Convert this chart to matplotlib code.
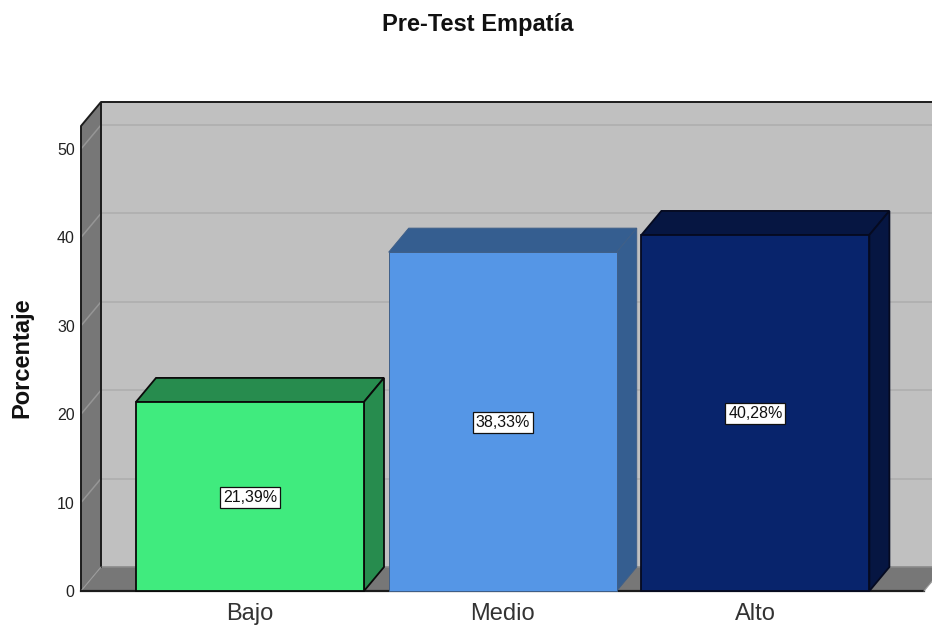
import matplotlib
matplotlib.use("Agg")
import matplotlib.pyplot as plt
from matplotlib.patches import Polygon

plt.rcParams["font.family"] = ["Liberation Sans", "DejaVu Sans"]

categories = ["Bajo", "Medio", "Alto"]
percentages = [21.39, 38.33, 40.28]
y_ticks = [0, 10, 20, 30, 40, 50]

front_colors = ["#40EB7E", "#5596E6", "#08246C"]
shade_colors = ["#278C4E", "#355E90", "#061642"]
edge_colors = ["#0A0A0A", "#3F5F88", "#050A20"]
edge_widths = [1.3, 0.7, 1.3]

WIDTH, HEIGHT = 932, 627
fig = plt.figure(figsize=(WIDTH / 100, HEIGHT / 100), dpi=100, facecolor="white")

# Plot area in pixels: the front plane starts at x=81 with zero at y=591
x0_px, zero_px, top_px = 81, 591, 102
ax = fig.add_axes([x0_px / WIDTH, (HEIGHT - zero_px) / HEIGHT,
                   (WIDTH - x0_px) / WIDTH, (zero_px - top_px) / HEIGHT])
px_per_cat = 252.7
px_per_pct = 8.84
first_cat_px = 250
ax.set_xlim((x0_px - first_cat_px) / px_per_cat, (WIDTH - first_cat_px) / px_per_cat)
ax.set_ylim(0, (zero_px - top_px) / px_per_pct)
ax.patch.set_visible(False)
for spine in ax.spines.values():
    spine.set_visible(False)

# Depth of the pseudo-3D box, in data units
dx = 20 / px_per_cat
dy = 24 / px_per_pct
x_left, x_right = ax.get_xlim()
y_top = ax.get_ylim()[1] - dy
floor_right = (924 - first_cat_px) / px_per_cat

wall = "#C0C0C0"
side = "#777777"
grid = "#B0B0B0"
grid_side = "#969696"
dark = "#1C1C1C"

# Back wall, left wall and floor
ax.add_patch(Polygon([(x_left + dx, dy), (x_right + dx, dy), (x_right + dx, y_top + dy),
                      (x_left + dx, y_top + dy)], fc=wall, ec="none", zorder=1))
ax.add_patch(Polygon([(x_left, 0), (x_left + dx, dy), (x_left + dx, y_top + dy), (x_left, y_top)],
                     fc=side, ec="none", zorder=1))
ax.add_patch(Polygon([(x_left, 0), (floor_right, 0), (floor_right + dx, dy), (x_left + dx, dy)],
                     fc=side, ec="none", zorder=1))

# Gridlines run across the left wall and then along the back wall
for t in y_ticks[1:]:
    ax.plot([x_left, x_left + dx], [t, t + dy], color=grid_side, lw=1.1, zorder=2, clip_on=False)
    ax.plot([x_left + dx, x_right + dx], [t + dy, t + dy], color=grid, lw=1.3, zorder=2, clip_on=False)
ax.plot([x_left + dx, x_right + dx], [dy, dy], color="#8A8A8A", lw=1.2, zorder=2)

# Frame of the box
ax.plot([x_left, x_left, x_left + dx, x_right], [0, y_top, y_top + dy, y_top + dy],
        color=dark, lw=1.4, zorder=3, clip_on=False)
ax.plot([x_left + dx, x_left + dx], [dy, y_top + dy], color=dark, lw=1.4, zorder=3)
ax.plot([x_left, x_left + dx], [0, dy], color="#9A9A9A", lw=0.8, zorder=3)
ax.plot([x_left, floor_right], [0, 0], color=dark, lw=1.6, zorder=3, clip_on=False)
ax.plot([floor_right, floor_right + dx], [0, dy], color="#9A9A9A", lw=0.8, zorder=3, clip_on=False)

# Bars with their top and side faces
bar_w = 228 / px_per_cat
positions = list(range(len(categories)))
for pos, val, fc, sc, ec, lw in zip(positions, percentages, front_colors, shade_colors,
                                    edge_colors, edge_widths):
    l, r = pos - bar_w / 2, pos + bar_w / 2
    ax.add_patch(Polygon([(l, val), (r, val), (r + dx, val + dy), (l + dx, val + dy)],
                         fc=sc, ec=ec, lw=lw, zorder=4, joinstyle="miter"))
    ax.add_patch(Polygon([(r, 0), (r + dx, dy), (r + dx, val + dy), (r, val)],
                         fc=sc, ec=ec, lw=lw, zorder=4, joinstyle="miter"))
    ax.bar(pos, val, width=bar_w, color=fc, edgecolor=ec, linewidth=lw, zorder=5, clip_on=False)
    label = f"{val:.2f}%".replace(".", ",")
    ax.text(pos, val / 2 - 0.1, label, ha="center", va="center", fontsize=11.5, color="#111111", zorder=6,
            bbox=dict(boxstyle="square,pad=0.18", fc="white", ec="#111111", lw=0.9))

ax.set_yticks(y_ticks)
ax.set_xticks(positions)
ax.set_xticklabels(categories)
ax.tick_params(axis="y", length=0, pad=4.5, labelsize=11.5, labelcolor="#222222")
ax.tick_params(axis="x", length=0, pad=8.5, labelsize=17, labelcolor="#333333")

fig.text(22 / WIDTH, 1 - 358 / HEIGHT, "Porcentaje", rotation=90, ha="center", va="center",
         fontsize=17, fontweight="bold", color="#111111")
fig.text(478 / WIDTH, 1 - 25 / HEIGHT, "Pre-Test Empatía", ha="center", va="center",
         fontsize=17, fontweight="bold", color="#111111")

fig.savefig("out.png", dpi=100, facecolor="white")
